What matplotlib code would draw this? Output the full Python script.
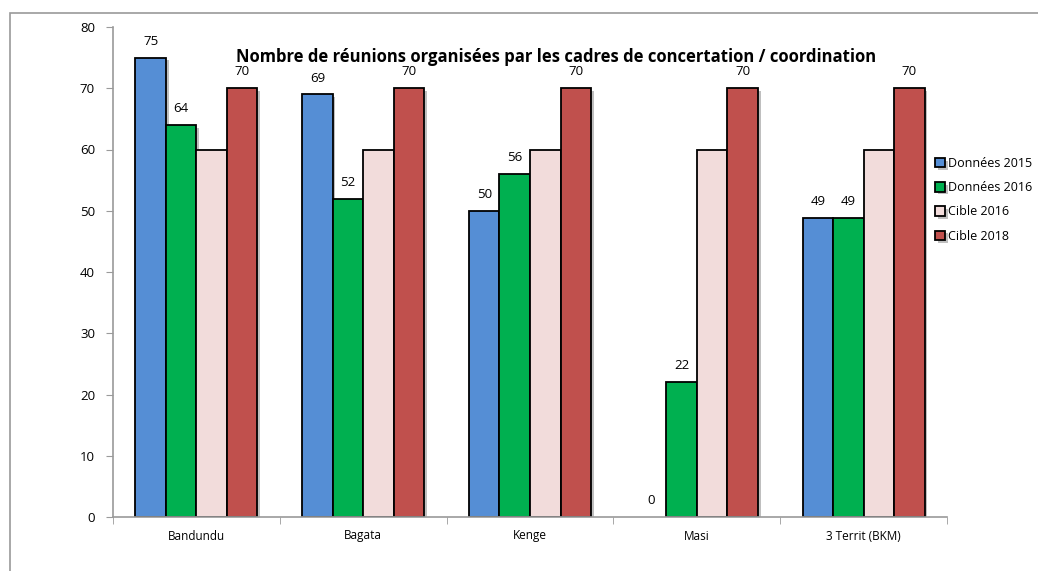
import matplotlib.pyplot as plt
import matplotlib.patheffects as pe
from matplotlib.patches import Rectangle
import numpy as np

plt.rcParams['font.family'] = ['Open Sans', 'DejaVu Sans']

# données
territoires = ['Bandundu', 'Bagata', 'Kenge', 'Masi', '3 Territ (BKM)']
series_noms = ['Données 2015', 'Données 2016', 'Cible 2016', 'Cible 2018']
donnees_2015 = [75, 69, 50, 0, 48.8]
donnees_2016 = [64, 52, 56, 22, 48.8]
cible_2016 = [60, 60, 60, 60, 60]
cible_2018 = [70, 70, 70, 70, 70]
couleurs = ['#558ED5', '#00B050', '#F2DCDB', '#C0504D']
avec_etiquettes = [True, True, False, True]

fig = plt.figure(figsize=(10.38, 5.71), dpi=100)
ax = fig.add_axes([113 / 1038, 1 - 517 / 571, 834 / 1038, 490 / 571])

# cadre du graphique
fig.patches.append(Rectangle((10 / 1038, -0.1), 1.2, 1 - 13 / 571 + 0.1,
                             transform=fig.transFigure, fill=False,
                             edgecolor='#9a9a9a', lw=1.2))

x = np.arange(len(territoires))
w = 0.183
shadow = [pe.SimplePatchShadow(offset=(2, -2), shadow_rgbFace='#808080', alpha=0.5), pe.Normal()]
serie_vals = [donnees_2015, donnees_2016, cible_2016, cible_2018]
for i, (vals, nom) in enumerate(zip(serie_vals, series_noms)):
    pos = x + (i - 1.5) * w
    bars = ax.bar(pos, vals, w, color=couleurs[i], edgecolor='black', lw=1.3,
                  label=nom, path_effects=shadow)
    for b, v in zip(bars, vals):
        if v == 0:
            b.set_visible(False)
    if avec_etiquettes[i]:
        for p, v in zip(pos, vals):
            ax.text(p, v + 1.6, f'{v:.0f}', ha='center', va='bottom', fontsize=9.5)

ax.set_xlim(-0.5, len(territoires) - 0.5)
ax.set_ylim(0, 80)
ax.set_yticks(range(0, 81, 10))
ax.set_xticks(x)
ax.set_xticklabels(territoires, fontsize=8.5)
ax.set_xticks(np.arange(-0.5, len(territoires)), minor=True)
ax.tick_params(axis='x', which='major', length=0, pad=9)
ax.tick_params(axis='x', which='minor', length=5, color='#9a9a9a', direction='out')
ax.tick_params(axis='y', length=5, color='#9a9a9a', labelsize=9.5, pad=8)
for s in ['top', 'right']:
    ax.spines[s].set_visible(False)
for s in ['left', 'bottom']:
    ax.spines[s].set_color('#9a9a9a')
    ax.spines[s].set_linewidth(1.2)

fig.text(556 / 1038, 1 - 57 / 571, 'Nombre de réunions organisées par les cadres de concertation / coordination',
         ha='center', va='center', fontsize=12, fontweight='bold')

fig.legend(loc='upper left', bbox_to_anchor=(930 / 1038, 1 - 152 / 571), frameon=False,
           fontsize=9, handlelength=0.8, handleheight=0.8, handletextpad=0.2,
           labelspacing=0.9, borderaxespad=0)

fig.savefig('out.png', dpi=100)
